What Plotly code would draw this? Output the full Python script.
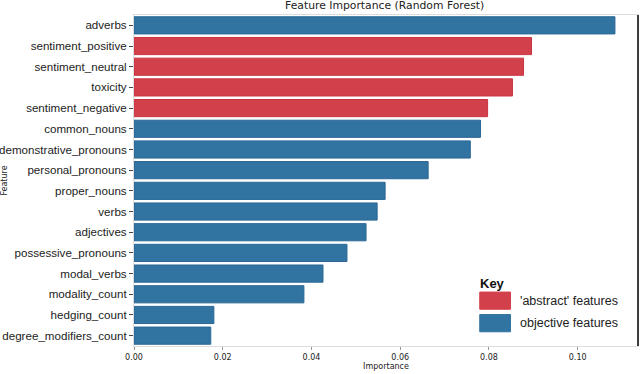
import plotly.graph_objects as go

features = ["adverbs", "sentiment_positive", "sentiment_neutral", "toxicity",
            "sentiment_negative", "common_nouns", "demonstrative_pronouns",
            "personal_pronouns", "proper_nouns", "verbs", "adjectives",
            "possessive_pronouns", "modal_verbs", "modality_count",
            "hedging_count", "degree_modifiers_count"]
importance = [0.1084, 0.0896, 0.0878, 0.0853, 0.0797, 0.0781, 0.0758, 0.0663,
              0.0566, 0.0548, 0.0523, 0.0480, 0.0426, 0.0383, 0.0180, 0.0173]
group = ["objective", "abstract", "abstract", "abstract", "abstract",
         "objective", "objective", "objective", "objective", "objective",
         "objective", "objective", "objective", "objective", "objective", "objective"]
x_ticks = [0.0, 0.02, 0.04, 0.06, 0.08, 0.10]
x_tick_labels = ["0.00", "0.02", "0.04", "0.06", "0.08", "0.10"]
legend_labels = ["'abstract' features", "objective features"]

RED = "#D2404B"
BLUE = "#3274A1"
colors = [RED if g == "abstract" else BLUE for g in group]
edges = ["#C93440" if g == "abstract" else "#2A6796" for g in group]

fig = go.Figure(go.Bar(
    x=importance, y=features, orientation="h",
    marker=dict(color=colors, line=dict(color=edges, width=1)),
    showlegend=False,
))

fig.update_layout(
    width=640, height=374,
    margin=dict(l=134, r=2, t=15, b=28),
    paper_bgcolor="white", plot_bgcolor="white",
    bargap=0.17,
    title=dict(text="Feature Importance (Random Forest)", x=0.601, xanchor="center",
               y=0.997, yanchor="top",
               font=dict(family="DejaVu Sans", size=10.8, color="#222")),
    font=dict(family="Liberation Sans, Arial", color="#222"),
)

fig.update_xaxes(
    range=[0, 0.1136], tickvals=x_ticks, ticktext=x_tick_labels,
    tickfont=dict(family="DejaVu Sans", size=8, color="#222"),
    ticks="outside", ticklen=3, tickcolor="#999", tickwidth=1,
    showgrid=False, zeroline=False, automargin=False,
    showline=True, linecolor="#DDDDDD", linewidth=1, mirror=True,
    title=dict(text="Importance", font=dict(family="DejaVu Sans", size=8, color="#222"), standoff=2),
)
fig.update_yaxes(
    categoryorder="array", categoryarray=features[::-1],
    tickfont=dict(family="Liberation Sans, Arial", size=11.6, color="#222"),
    ticks="outside", ticklen=4, tickcolor="#444", tickwidth=1,
    showgrid=False, zeroline=False, automargin=False,
    showline=True, linecolor="#DDDDDD", linewidth=1, mirror=True,
    title=dict(text="Feature", font=dict(family="DejaVu Sans", size=8, color="#222"), standoff=2),
)

# right border line
fig.add_shape(type="line", xref="paper", yref="paper", x0=1, x1=1, y0=0, y1=1,
              line=dict(color="black", width=1.5))

# custom legend ("Key")
sw_x0, sw_x1 = 0.686, 0.747
fig.add_annotation(text="<b>Key</b>", xref="paper", yref="paper", x=sw_x0 - 0.004, y=0.19,
                   xanchor="left", yanchor="middle", showarrow=False,
                   font=dict(family="Liberation Sans, Arial", size=13, color="#111"))
for i, (lab, col) in enumerate(zip(legend_labels, [RED, BLUE])):
    yc = 0.137 - i * 0.068
    fig.add_shape(type="rect", xref="paper", yref="paper", x0=sw_x0, x1=sw_x1,
                  y0=yc - 0.026, y1=yc + 0.026, fillcolor=col,
                  line=dict(color=col, width=1))
    fig.add_annotation(text=lab, xref="paper", yref="paper", x=sw_x1 + 0.014, y=yc,
                       xanchor="left", yanchor="middle", showarrow=False,
                       font=dict(family="Liberation Sans, Arial", size=12.5, color="#222"))

fig.write_html("out.html", config={"displayModeBar": False})

# remove default page margin so the 640x374 figure fills the window exactly
with open("out.html", "r", encoding="utf-8") as f:
    html = f.read()
html = html.replace("<body>", '<body style="margin:0;padding:0;overflow:hidden">', 1)
with open("out.html", "w", encoding="utf-8") as f:
    f.write(html)
